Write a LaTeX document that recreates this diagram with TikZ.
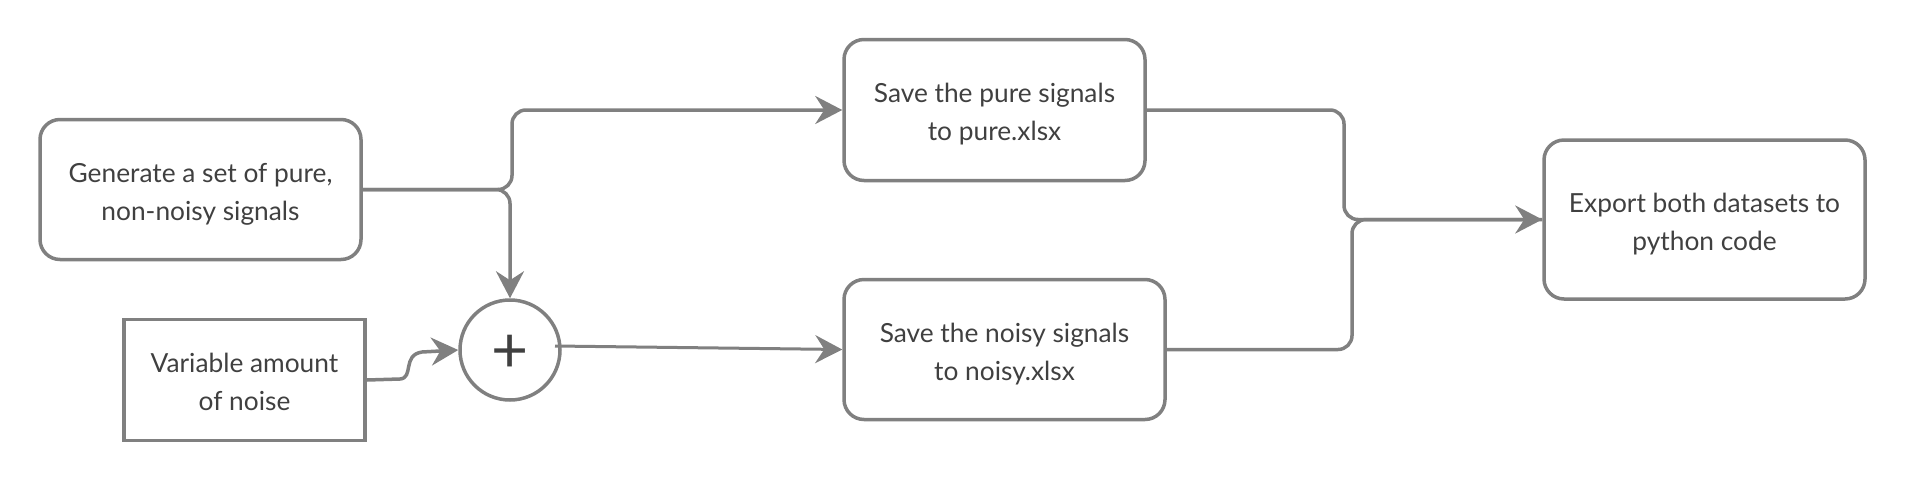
\documentclass[tikz,border=0pt]{standalone}
\usepackage{fontspec}
\setmainfont{Lato}
\usetikzlibrary{arrows.meta}
\definecolor{linegray}{HTML}{808080}
\definecolor{textgray}{HTML}{404040}
\newcommand{\twolines}[2]{\raisebox{-4pt}[\height][\depth]{\begin{tabular}{@{}c@{}}#1\\#2\end{tabular}}}
\begin{document}
\begin{tikzpicture}[x=1pt,y=-1pt,
  box/.style={draw=linegray, line width=3.5pt, rounded corners=20pt, inner sep=0pt, text=textgray, font=\fontsize{26.3}{38}\selectfont},
  sharpbox/.style={draw=linegray, line width=3.5pt, inner sep=0pt, text=textgray, font=\fontsize{26.3}{38}\selectfont},
  conn/.style={draw=linegray, line width=3.5pt, rounded corners=14pt, -{Stealth[length=27pt,width=28pt,inset=9pt]}},
  plain/.style={draw=linegray, line width=3.5pt, rounded corners=14pt}
]
\useasboundingbox (0,0) rectangle (1905,480);
\node[box, minimum width=321pt, minimum height=140pt] (gen) at (200.5,189.5) {\twolines{Generate a set of pure,}{non-noisy signals}};
\node[sharpbox, minimum width=241pt, minimum height=121pt] (var) at (244.5,380) {\twolines{Variable amount}{of noise}};
\node[draw=linegray, line width=3.5pt, circle, minimum size=100pt, inner sep=0pt, text=textgray, font=\fontsize{64}{64}\selectfont] (circ) at (510,350) {\raisebox{-4pt}[\height][\depth]{+}};
\node[box, minimum width=301pt, minimum height=141pt] (pure) at (994.5,110) {\twolines{Save the pure signals}{to pure.xlsx}};
\node[box, minimum width=321pt, minimum height=140pt] (noisy) at (1004.5,349.5) {\twolines{Save the noisy signals}{to noisy.xlsx}};
\node[box, minimum width=321pt, minimum height=159pt] (exp) at (1704.5,219.5) {\twolines{Export both datasets to}{python code}};
\coordinate (cout) at (555,346);

\draw[conn] (gen.east) -- (512,189.5) -- (512,110) -- (pure.west);
\draw[conn] (gen.east) -- (510,189.5) -- (circ.north);
\draw[conn, rounded corners=0pt] (var.east) -- (400,379) .. controls (414,378) and (402,355) .. (422,352) -- (circ.west);
\draw[conn, line width=3pt] (cout) -- (noisy.west);
\draw[conn] (pure.east) -- (1344,110) -- (1344,219.5) -- (exp.west);
\draw[plain] (noisy.east) -- (1352,349.5) -- (1352,219.5) -- (exp.west);
\end{tikzpicture}
\end{document}
